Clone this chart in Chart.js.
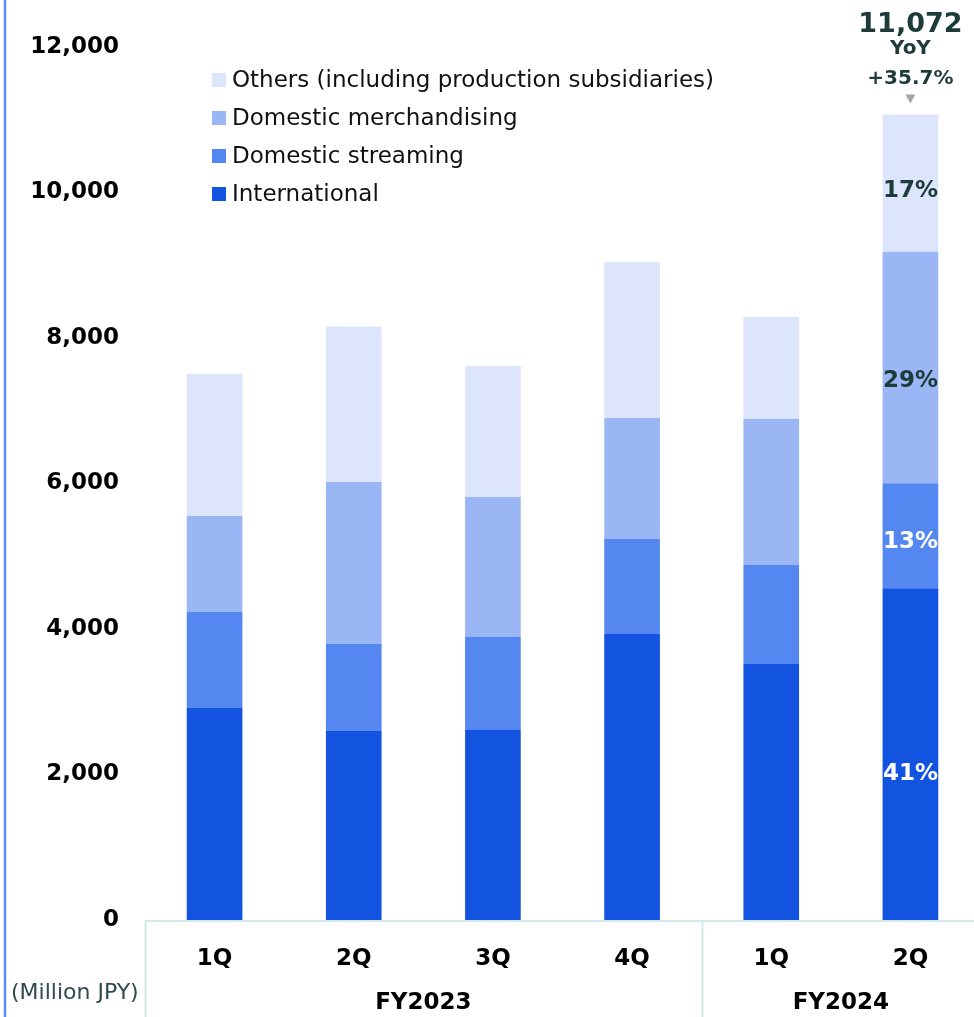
<!DOCTYPE html>
<html>
<head>
<meta charset="utf-8">
<title>Sales by segment</title>
<script src="https://cdn.jsdelivr.net/npm/chart.js@4.4.1/dist/chart.umd.min.js"></script>
<style>
  html, body { margin: 0; padding: 0; overflow: hidden; background: #fff; }
  #wrap { position: relative; width: 980px; height: 1017px; }
</style>
</head>
<body>
<div id="wrap"><canvas id="salesChart"></canvas></div>
<script>
// quarterly sales, million JPY
var quarters = ['1Q', '2Q', '3Q', '4Q', '1Q', '2Q'];
var fiscalYears = ['FY2023', 'FY2024'];
var yearSpans = [4, 2];
var international = [2914, 2598, 2612, 3931, 3519, 4560];
var domesticStreaming = [1320, 1196, 1278, 1306, 1361, 1445];
var domesticMerch = [1319, 2227, 1924, 1663, 2007, 3180];
var others = [1952, 2138, 1801, 2145, 1402, 1887];
var yTicks = [0, 2000, 4000, 6000, 8000, 10000, 12000];

var FONT = '"DejaVu Sans", Verdana, sans-serif';
var DARK = '#1d3b39';
var LINE = '#d3e9ec';

function totalAt(i) {
  return international[i] + domesticStreaming[i] + domesticMerch[i] + others[i];
}

var segmentPlugin = {
  id: 'segmentLabels',
  afterDatasetsDraw: function (chart) {
    var ctx = chart.ctx;
    var last = quarters.length - 1;
    var total = totalAt(last);
    var prev = totalAt(last - 4);
    ctx.save();
    ctx.textAlign = 'center';
    ctx.textBaseline = 'middle';

    // share of each segment on the latest bar
    chart.data.datasets.forEach(function (ds, di) {
      var bar = chart.getDatasetMeta(di).data[last];
      var h = bar.base - bar.y;
      var pct = Math.round(ds.data[last] / total * 100) + '%';
      ctx.font = 'bold 23px ' + FONT;
      ctx.fillStyle = ds.labelColor;
      ctx.fillText(pct, bar.x, bar.y + h * 0.56);
    });

    // total and year-on-year growth above the latest bar
    var topMeta = chart.getDatasetMeta(chart.data.datasets.length - 1).data[last];
    var x = topMeta.x, y = topMeta.y;
    ctx.fillStyle = '#a6a6a6';
    ctx.beginPath();
    ctx.moveTo(x - 5, y - 20);
    ctx.lineTo(x + 5, y - 20);
    ctx.lineTo(x, y - 11);
    ctx.closePath();
    ctx.fill();

    var yoy = (total / prev - 1) * 100;
    ctx.fillStyle = DARK;
    ctx.font = 'bold 20px ' + FONT;
    ctx.fillText('+' + yoy.toFixed(1) + '%', x, y - 36);
    ctx.fillText('YoY', x, y - 66);
    ctx.font = 'bold 27px ' + FONT;
    ctx.fillText(total.toLocaleString('en-US'), x, y - 90);
    ctx.restore();
  },
  afterDraw: function (chart) {
    var ctx = chart.ctx;
    var xs = chart.scales.x;
    var area = chart.chartArea;
    var H = chart.height;
    ctx.save();

    // blue rule along the left edge
    ctx.strokeStyle = '#5b8bef';
    ctx.lineWidth = 2.5;
    ctx.beginPath();
    ctx.moveTo(5, 0);
    ctx.lineTo(5, H);
    ctx.stroke();

    // table lines under the bars
    var step = (xs.right - xs.left) / quarters.length;
    ctx.strokeStyle = LINE;
    ctx.lineWidth = 2;
    ctx.beginPath();
    ctx.moveTo(area.left, area.bottom + 1);
    ctx.lineTo(chart.width, area.bottom + 1);
    var start = 0;
    yearSpans.forEach(function (n) {
      var lx = Math.round(xs.left + start * step) + 0.5;
      ctx.moveTo(lx, area.bottom + 1);
      ctx.lineTo(lx, H);
      start += n;
    });
    ctx.stroke();

    // fiscal year group labels
    ctx.fillStyle = '#000';
    ctx.font = 'bold 23px ' + FONT;
    ctx.textAlign = 'center';
    ctx.textBaseline = 'middle';
    start = 0;
    fiscalYears.forEach(function (fy, i) {
      var cx = xs.left + (start + yearSpans[i] / 2) * step;
      ctx.fillText(fy, cx, 1003);
      start += yearSpans[i];
    });

    // unit label
    ctx.fillStyle = '#2f4b4b';
    ctx.font = '22px ' + FONT;
    ctx.textAlign = 'left';
    ctx.fillText('(Million JPY)', 11, 993);

    // legend, top segment first
    var items = chart.data.datasets.slice().reverse();
    ctx.font = '23px ' + FONT;
    items.forEach(function (ds, i) {
      var ly = 80 + i * 38;
      ctx.fillStyle = ds.backgroundColor;
      ctx.fillRect(212, ly - 7, 14, 14);
      ctx.fillStyle = '#111';
      ctx.fillText(ds.label, 232, ly + 1);
    });
    ctx.restore();
  }
};

new Chart(document.getElementById('salesChart'), {
  type: 'bar',
  data: {
    labels: quarters,
    datasets: [
      { label: 'International', data: international, backgroundColor: '#1253df', labelColor: '#ffffff' },
      { label: 'Domestic streaming', data: domesticStreaming, backgroundColor: '#5487ef', labelColor: '#ffffff' },
      { label: 'Domestic merchandising', data: domesticMerch, backgroundColor: '#9ab6f5', labelColor: DARK },
      { label: 'Others (including production subsidiaries)', data: others, backgroundColor: '#dce5fc', labelColor: DARK }
    ]
  },
  options: {
    responsive: true,
    maintainAspectRatio: false,
    animation: false,
    layout: { padding: { top: 47, right: 0, bottom: 0, left: 0 } },
    datasets: { bar: { barPercentage: 0.4, categoryPercentage: 1.0, borderWidth: 0 } },
    plugins: {
      legend: { display: false },
      tooltip: { enabled: false }
    },
    scales: {
      x: {
        stacked: true,
        grid: { display: false },
        border: { display: false },
        ticks: { color: '#000', padding: 17, font: { family: FONT, size: 23, weight: 'bold' } },
        afterFit: function (scale) { scale.height = 97; }
      },
      y: {
        stacked: true,
        min: 0,
        max: 12000,
        grid: { display: false },
        border: { display: false },
        afterBuildTicks: function (scale) {
          scale.ticks = yTicks.map(function (v) { return { value: v }; });
        },
        ticks: {
          color: '#000',
          padding: 18,
          font: { family: FONT, size: 23, weight: 'bold' },
          callback: function (v) { return v.toLocaleString('en-US'); }
        },
        afterFit: function (scale) { scale.width = 145; }
      }
    }
  },
  plugins: [segmentPlugin]
});
</script>
</body>
</html>
